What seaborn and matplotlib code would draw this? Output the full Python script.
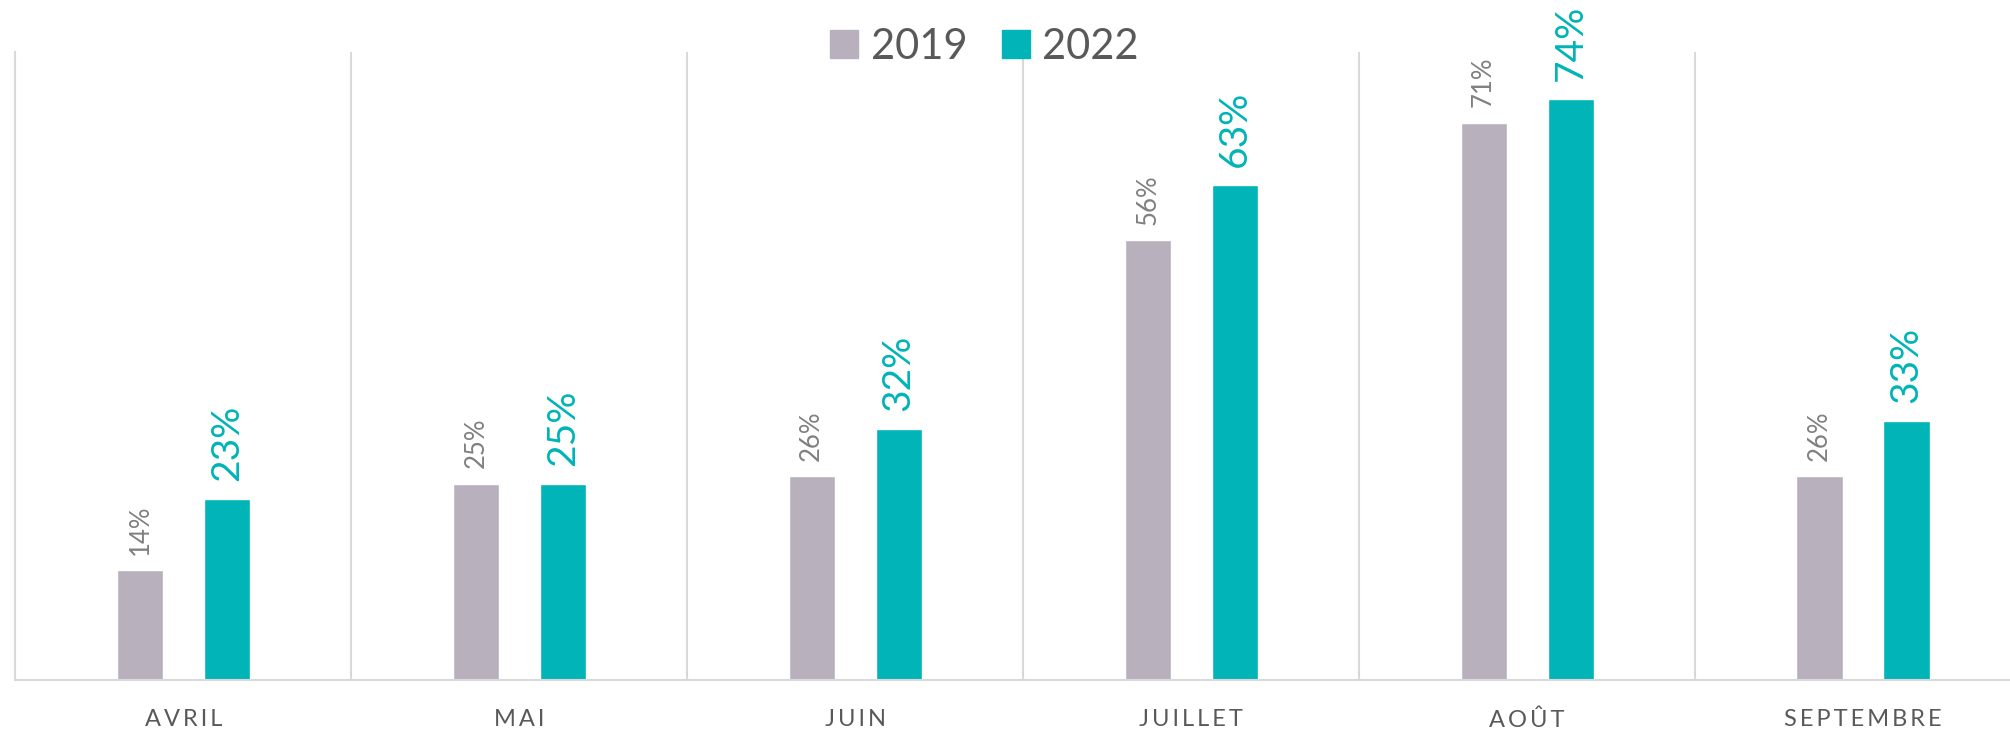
import pandas as pd
import matplotlib
matplotlib.use("Agg")
import matplotlib.pyplot as plt
import seaborn as sns
from matplotlib.lines import Line2D

mois = ["AVRIL", "MAI", "JUIN", "JUILLET", "AOÛT", "SEPTEMBRE"]
vals_2019 = [14, 25, 26, 56, 71, 26]
vals_2022 = [23, 25, 32, 63, 74, 33]
annees = ["2019", "2022"]
couleurs = ["#b8b0bc", "#00b4b7"]

df = pd.DataFrame({
    "mois": mois * 2,
    "annee": ["2019"] * len(mois) + ["2022"] * len(mois),
    "taux": vals_2019 + vals_2022,
})

sns.set_style("white")
plt.rcParams["font.family"] = ["Lato", "DejaVu Sans"]

fig = plt.figure(figsize=(20.1, 7.3), dpi=100)
ax = fig.add_axes([15.4 / 2010, 1 - 680 / 730, 1 - 15.4 / 2010, (680 - 52) / 730])

sns.barplot(
    data=df, x="mois", y="taux", hue="annee", hue_order=annees,
    palette=couleurs, width=0.518, gap=0.47, legend=False, ax=ax,
    saturation=1,
)

# étiquettes de valeurs
ax.bar_label(ax.containers[0], labels=[f"{v}%" for v in vals_2019],
             rotation=90, padding=11, fontsize=18.5, color="#808080")
ax.bar_label(ax.containers[1], labels=[f"{v}%" for v in vals_2022],
             rotation=90, padding=13, fontsize=28, color="#00b4b7")

ax.set_ylim(0, 80)
ax.set_xlim(-0.5, 5.5 - 21 / 336)
ax.set_yticks([])
ax.set_xlabel("")
ax.set_ylabel("")

ax.set_xticks(range(len(mois)))
ax.set_xticklabels(["\u2009".join(m) for m in mois], fontsize=17, color="#595959")
ax.tick_params(axis="x", length=0, pad=21)

# séparateurs verticaux
ax.set_xticks([i - 0.5 for i in range(len(mois))], minor=True)
ax.tick_params(axis="x", which="minor", length=0)
ax.grid(which="minor", axis="x", color="#d9d9d9", lw=1.5)
ax.set_axisbelow(True)

for s in ["top", "right"]:
    ax.spines[s].set_visible(False)
ax.spines["left"].set_color("#d9d9d9")
ax.spines["left"].set_linewidth(1.5)
ax.spines["bottom"].set_color("#d9d9d9")
ax.spines["bottom"].set_linewidth(1.5)

handles = [Line2D([], [], marker="s", linestyle="", markersize=19.5,
                  markerfacecolor=c, markeredgecolor=c) for c in couleurs]
fig.legend(handles, annees, loc="center", bbox_to_anchor=(0.49, 0.936),
           ncol=2, frameon=False, fontsize=30, labelcolor="#595959",
           handlelength=0.63, handletextpad=0.33, columnspacing=0.84)

fig.savefig("out.png", dpi=100, facecolor="white")
